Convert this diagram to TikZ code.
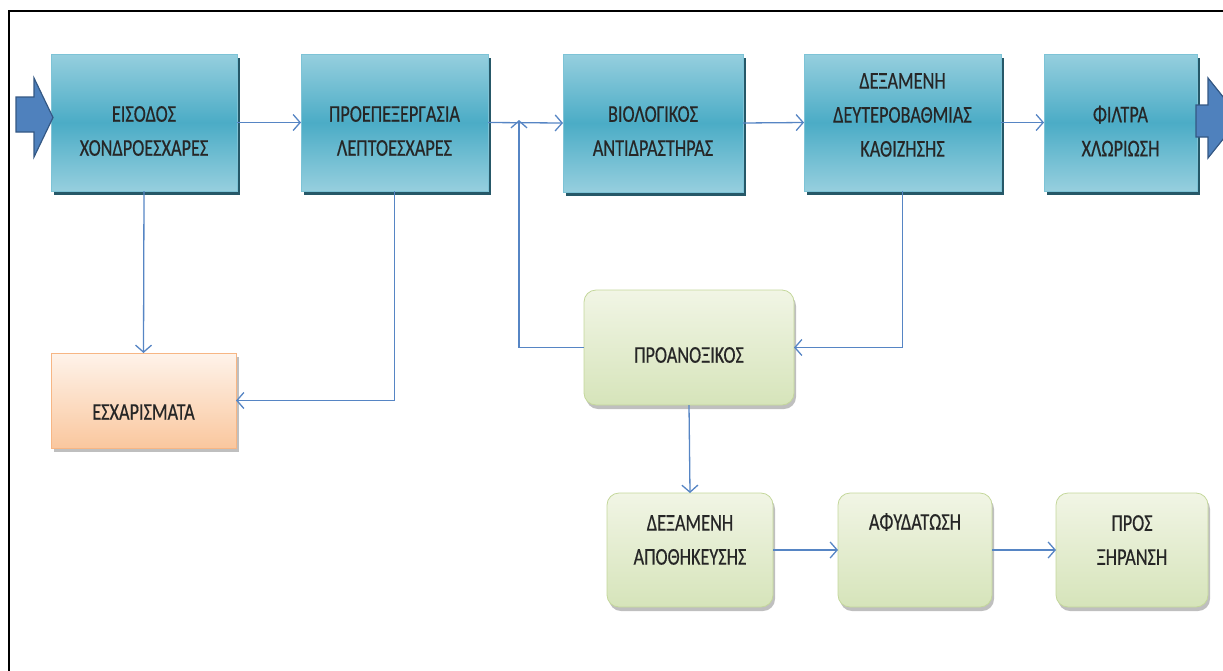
\documentclass[tikz,border=0pt]{standalone}
\usepackage{fontspec}
\setmainfont[FakeStretch=0.76,FakeBold=0.4]{Carlito}
\usetikzlibrary{arrows.meta,shadows}

\definecolor{tealtop}{RGB}{150,207,222}
\definecolor{tealmid}{RGB}{75,172,198}
\definecolor{tealedge}{RGB}{125,195,214}
\definecolor{tealshadow}{RGB}{38,88,104}
\definecolor{greentop}{RGB}{241,245,229}
\definecolor{greenbot}{RGB}{214,228,186}
\definecolor{greenedge}{RGB}{196,215,155}
\definecolor{orangetop}{RGB}{254,243,234}
\definecolor{orangebot}{RGB}{250,199,158}
\definecolor{orangeedge}{RGB}{247,182,132}
\definecolor{flow}{RGB}{86,133,196}
\definecolor{bigarrow}{RGB}{79,129,189}
\definecolor{bigarrowedge}{RGB}{52,88,132}

\tikzset{
  stagebox/.style={draw=tealedge, line width=0.8pt, inner sep=0pt, outer sep=0pt,
    top color=tealtop, bottom color=tealtop, middle color=tealmid,
    drop shadow={shadow xshift=3pt, shadow yshift=-4pt, fill=tealshadow, opacity=1}},
  sludgebox/.style={draw=greenedge, line width=0.8pt, inner sep=0pt, outer sep=0pt,
    rounded corners=12pt, top color=greentop, bottom color=greenbot,
    drop shadow={shadow xshift=2pt, shadow yshift=-4pt, fill=black, opacity=0.25}},
  wastebox/.style={draw=orangeedge, line width=0.8pt, inner sep=0pt, outer sep=0pt,
    top color=orangetop, bottom color=orangebot,
    drop shadow={shadow xshift=3pt, shadow yshift=-4pt, fill=black, opacity=0.25}},
  caption/.style={align=center, inner sep=0pt, text=black!85, font=\fontsize{24}{34}\selectfont},
  flowline/.style={draw=flow, line width=1.3pt},
  flowarrow/.style={flowline, -{Straight Barb[length=7pt,width=16pt,line width=1.3pt]}},
  bigflow/.style={fill=bigarrow, draw=bigarrowedge, line width=1.2pt, line join=miter}
}

\begin{document}
\begin{tikzpicture}[x=1pt, y=-1pt]
\useasboundingbox (0,0) rectangle (1223,670);
\clip (0,0) rectangle (1223,670);

% outer frame
\draw[line width=2pt] (1300,11) -- (9,11) -- (9,720);

% main treatment line
\node[stagebox, minimum width=186pt, minimum height=137pt] (inlet) at (144,122.5) {};
\node[stagebox, minimum width=187pt, minimum height=137pt] (pretreat) at (394.5,122.5) {};
\node[stagebox, minimum width=180pt, minimum height=138pt] (reactor) at (653,123) {};
\node[stagebox, minimum width=197pt, minimum height=137pt] (clarifier) at (902.5,122.5) {};
\node[stagebox, minimum width=153pt, minimum height=137pt] (filter) at (1120.5,122.5) {};

\node[caption] (inlet-t) at (144,131) {ΕΙΣΟΔΟΣ\\ΧΟΝΔΡΟΕΣΧΑΡΕΣ};
\node[caption] (pretreat-t) at (394.5,131) {ΠΡΟΕΠΕΞΕΡΓΑΣΙΑ\\ΛΕΠΤΟΕΣΧΑΡΕΣ};
\node[caption] (reactor-t) at (653,131) {ΒΙΟΛΟΓΙΚΟΣ\\ΑΝΤΙΔΡΑΣΤΗΡΑΣ};
\node[caption] (clarifier-t) at (902.5,115) {ΔΕΞΑΜΕΝΗ\\ΔΕΥΤΕΡΟΒΑΘΜΙΑΣ\\ΚΑΘΙΖΗΣΗΣ};
\node[caption] (filter-t) at (1120.5,131) {ΦΙΛΤΡΑ\\ΧΛΩΡΙΩΣΗ};

% screenings
\node[wastebox, minimum width=185pt, minimum height=95pt] (screenings) at (143.5,400.5) {};
\node[caption] (screenings-t) at (143.5,412) {ΕΣΧΑΡΙΣΜΑΤΑ};

% sludge line
\node[sludgebox, minimum width=210pt, minimum height=115pt] (anoxic) at (689,347.5) {};
\node[caption] (anoxic-t) at (689,355) {ΠΡΟΑΝΟΞΙΚΟΣ};
\node[sludgebox, minimum width=166pt, minimum height=114pt] (storage) at (690,550) {};
\node[caption] (storage-t) at (690,540) {ΔΕΞΑΜΕΝΗ\\ΑΠΟΘΗΚΕΥΣΗΣ};
\node[sludgebox, minimum width=154pt, minimum height=114pt] (dewater) at (915,550) {};
\node[caption] (dewater-t) at (915,522) {ΑΦΥΔΑΤΩΣΗ};
\node[sludgebox, minimum width=152pt, minimum height=114pt] (drying) at (1132,550) {};
\node[caption] (drying-t) at (1132,540) {ΠΡΟΣ\\ΞΗΡΑΝΣΗ};

% inflow and outflow arrows
\draw[bigflow] (16,97) -- (34,97) -- (34,78) -- (53,117.5) -- (34,157) -- (34,132) -- (16,132) -- cycle;
\draw[bigflow] (1196,105) -- (1208,105) -- (1208,78) -- (1240,118) -- (1208,158) -- (1208,137) -- (1196,137) -- cycle;

% connectors
\coordinate (return) at (519,120);
\draw[flowarrow] (inlet.east) -- (pretreat.west);
\draw[flowarrow] (pretreat.east) -- (reactor.west);
\draw[flowarrow] (reactor.east) -- (clarifier.west);
\draw[flowarrow] (clarifier.east) -- (filter.west);
\draw[flowarrow] (inlet.south) -- (screenings.north);
\draw[flowarrow] (pretreat.south) |- (screenings.east);
\draw[flowarrow] (clarifier.south) |- (anoxic.east);
\draw[flowarrow] (anoxic.west) -| (return);
\draw[flowarrow] (anoxic.south) -- (storage.north);
\draw[flowarrow] (storage.east) -- (dewater.west);
\draw[flowarrow] (dewater.east) -- (drying.west);
\end{tikzpicture}
\end{document}
